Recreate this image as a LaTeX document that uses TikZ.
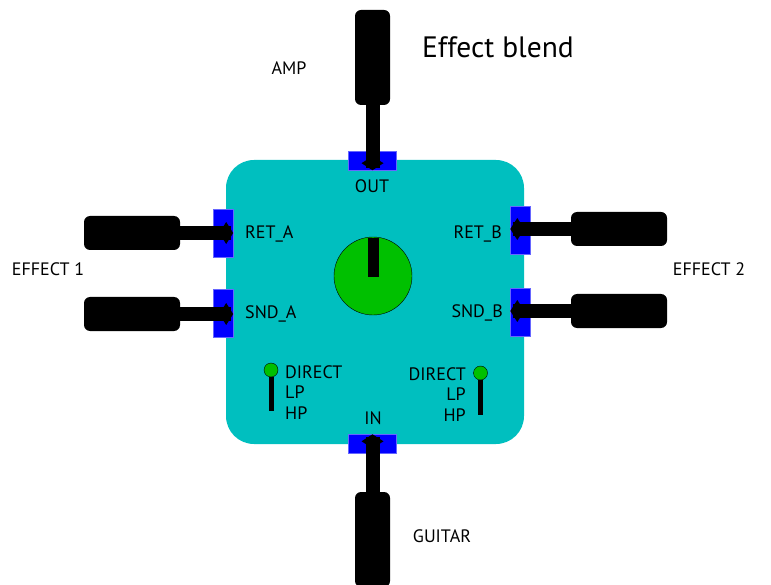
\documentclass[tikz,border=0pt]{standalone}
\usepackage{fontspec}
\setmainfont{PT Sans}
\usetikzlibrary{positioning, arrows.meta}
\definecolor{pedal}{HTML}{00BFBF}
\definecolor{port}{HTML}{0000FF}
\definecolor{knobg}{HTML}{00C000}
\tikzset{
  box/.style={fill=pedal, rounded corners=28pt, minimum width=298pt,
              minimum height=284pt, inner sep=0pt},
  hport/.style={fill=port, draw=port!60!white, minimum width=48pt,
                minimum height=19pt, inner sep=0pt},
  vport/.style={hport, minimum width=20pt, minimum height=48pt},
  vjack/.style={fill=black, rounded corners=6pt, minimum width=35pt,
                minimum height=95pt, inner sep=0pt},
  hjack/.style={fill=black, rounded corners=6pt, minimum width=96pt,
                minimum height=34pt, inner sep=0pt},
  plug/.style={line width=14pt, -{Diamond[length=14pt, width=22pt]}},
  led/.style={circle, draw=black, fill=knobg, minimum size=14pt, inner sep=0pt},
  lbl/.style={font=\fontsize{18}{20.5}\selectfont, inner sep=0pt},
  title/.style={font=\fontsize{29.5}{32}\selectfont, inner sep=0pt},
}

\begin{document}
\begin{tikzpicture}[x=1pt, y=-1pt]
  \useasboundingbox (0,0) rectangle (771,585);
  \node[box] (pedal) at (375,302) {};

  % ports
  \node[hport] (out) at (372.5,160.5) {};
  \node[hport] (in) at (372.5,444) {};
  \node[vport] (reta) at (223,233) {};
  \node[vport] (snda) at (223,313) {};
  \node[vport] (retb) at (520.5,230) {};
  \node[vport] (sndb) at (520.5,312) {};

  % jacks
  \node[vjack] (amp) at (372.5,57.5) {};
  \node[vjack] (gtr) at (372.5,539.5) {};
  \node[hjack] (fxa1) at (132,233) {};
  \node[hjack] (fxa2) at (132,314) {};
  \node[hjack] (fxb1) at (619,229) {};
  \node[hjack] (fxb2) at (619,311) {};

  \draw[plug] (amp.south) ++(0,-2) -- (out.south);
  \draw[plug] (gtr.north) ++(0,2) -- (in.north);
  \draw[plug] (fxa1.east) ++(-2,0) -- (fxa1.east -| reta.east);
  \draw[plug] (fxa2.east) ++(-2,0) -- (fxa2.east -| snda.east);
  \draw[plug] (fxb1.west) ++(2,0) -- (fxb1.west -| retb.west);
  \draw[plug] (fxb2.west) ++(2,0) -- (fxb2.west -| sndb.west);

  % knob
  \node[circle, draw=black, fill=knobg, minimum size=78pt, inner sep=0pt] (knob) at (373,276) {};
  \fill (367.5,238) rectangle (378.5,277);

  % mode switches
  \node[led] (swa) at (271,370) {};
  \draw[line width=5pt] (swa.south) -- ++(0,34);
  \node[led] (swb) at (480.5,373) {};
  \draw[line width=5pt] (swb.south) -- ++(0,35);
  \node[lbl, align=left, anchor=north west] (modea) at (285,365) {DIRECT\\LP\\HP};
  \node[lbl, align=right, anchor=north east] (modeb) at (466,367) {DIRECT\\LP\\HP};

  % port labels
  \node[lbl] at (372,186) {OUT};
  \node[lbl] at (373,418) {IN};
  \node[lbl, anchor=west] at (245,234) {RET\_A};
  \node[lbl, anchor=west] at (245,314) {SND\_A};
  \node[lbl, anchor=east] at (502,234) {RET\_B};
  \node[lbl, anchor=east] at (503,313) {SND\_B};

  % outside labels
  \node[title] at (498,47) {Effect blend};
  \node[lbl] at (289,68) {AMP};
  \node[lbl] at (48,269) {EFFECT 1};
  \node[lbl] at (709,269) {EFFECT 2};
  \node[lbl] at (442,536) {GUITAR};
\end{tikzpicture}
\end{document}
